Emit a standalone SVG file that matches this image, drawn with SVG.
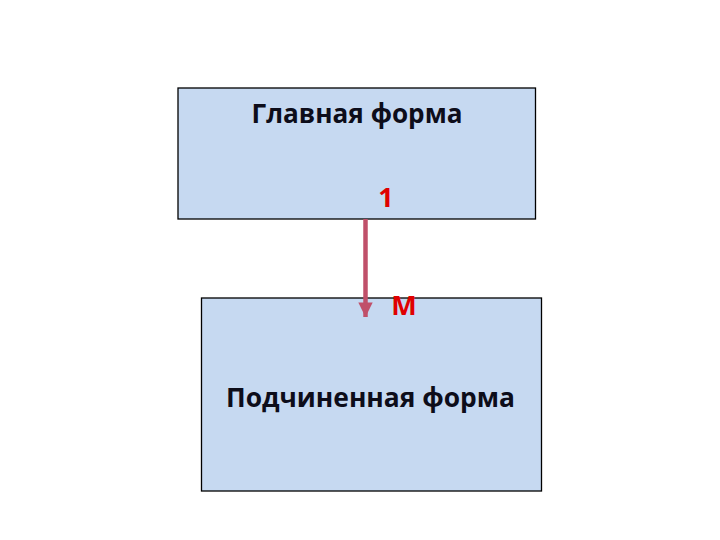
<svg xmlns="http://www.w3.org/2000/svg" width="720" height="540" viewBox="0 0 720 540">
<defs>
<style>
.box{fill:#c6d9f1;stroke:#000;stroke-width:1.3}
.lbl{font-family:"Open Sans","Liberation Sans",sans-serif;font-weight:bold;font-size:26.5px;fill:#0d0d1a}
.card{font-family:"Open Sans","Liberation Sans",sans-serif;font-weight:bold;font-size:27px;fill:#e00000}
</style>
<marker id="ah" viewBox="0 0 10 10" refX="10" refY="5" markerWidth="3.4" markerHeight="3.2" markerUnits="strokeWidth" orient="auto">
<path d="M0,0 L10,5 L0,10 z" fill="#c0506a"/>
</marker>
</defs>
<rect width="720" height="540" fill="#fff"/>
<g id="main">
<rect class="box" x="178" y="88" width="357.5" height="131"/>
<text class="lbl" x="357" y="122.5" text-anchor="middle" textLength="211" lengthAdjust="spacingAndGlyphs">Главная форма</text>
</g>
<g id="sub">
<rect class="box" x="201.5" y="298" width="340" height="193"/>
<text class="lbl" x="370.5" y="407" text-anchor="middle" textLength="289" lengthAdjust="spacingAndGlyphs">Подчиненная форма</text>
</g>
<g id="connectors">
<line x1="365.5" y1="219" x2="365.5" y2="317" stroke="#c0506a" stroke-width="4.5" marker-end="url(#ah)"/>
<text class="card" x="386" y="207" text-anchor="middle">1</text>
<text class="card" x="404" y="315" text-anchor="middle">М</text>
</g>
</svg>
